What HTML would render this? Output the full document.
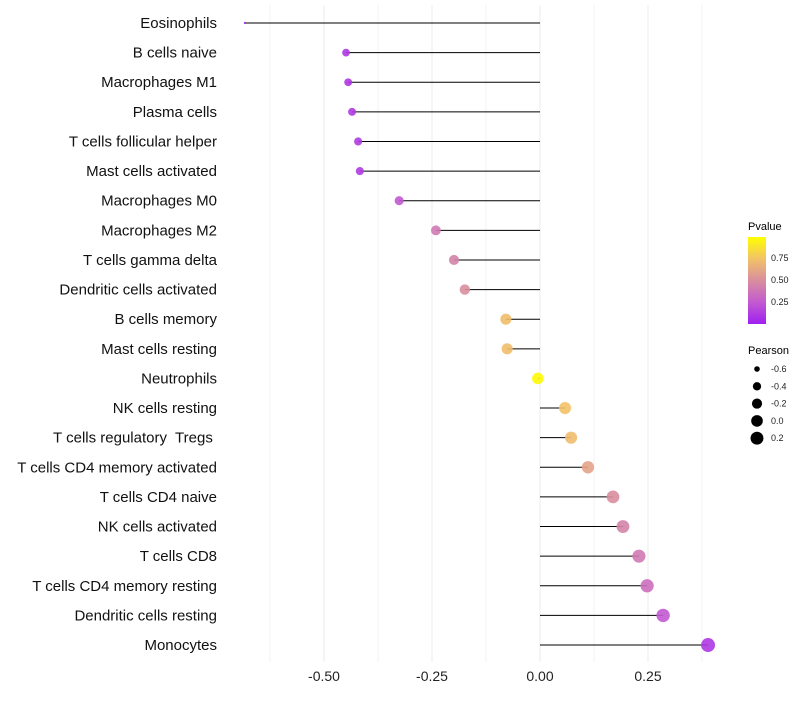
<!DOCTYPE html>
<html><head><meta charset="utf-8"><style>
body{margin:0;background:#fff;font-family:"Liberation Sans",sans-serif}
</style></head><body>
<svg id="chart" width="800" height="700" xmlns="http://www.w3.org/2000/svg">
<defs><linearGradient id="pg" x1="0" y1="1" x2="0" y2="0">
<stop offset="0" stop-color="#A020F0"/><stop offset="0.25" stop-color="#C25AD0"/><stop offset="0.5" stop-color="#D98E9E"/><stop offset="0.75" stop-color="#F2C267"/><stop offset="1" stop-color="#FFFF00"/></linearGradient></defs>
<g id="grid"></g><g id="marks"></g><g id="labels"></g><g id="legend"></g>
</svg>
<script>
const categories=["Eosinophils","B cells naive","Macrophages M1","Plasma cells","T cells follicular helper","Mast cells activated","Macrophages M0","Macrophages M2","T cells gamma delta","Dendritic cells activated","B cells memory","Mast cells resting","Neutrophils","NK cells resting","T cells regulatory\u00a0 Tregs\u00a0","T cells CD4 memory activated","T cells CD4 naive","NK cells activated","T cells CD8","T cells CD4 memory resting","Dendritic cells resting","Monocytes"];
const pearson=[-0.683,-0.449,-0.444,-0.435,-0.421,-0.417,-0.326,-0.241,-0.199,-0.174,-0.079,-0.076,-0.005,0.058,0.072,0.111,0.169,0.192,0.229,0.248,0.285,0.389];
const pvalue=[0.001,0.1,0.1,0.11,0.12,0.12,0.25,0.4,0.45,0.5,0.73,0.73,0.98,0.75,0.72,0.6,0.5,0.45,0.4,0.35,0.25,0.1];
const xTicks=[-0.5,-0.25,0,0.25];
const xTickLabels=["-0.50","-0.25","0.00","0.25"];
const pTicks=[0.25,0.5,0.75];
const sizeLegend=[-0.6,-0.4,-0.2,0.0,0.2];
const NS="http://www.w3.org/2000/svg";
const x=v=>540+v*432;
const y=i=>23+i*29.62;
const pmin=-0.683,pmax=0.389;
const r=v=>(1+5*Math.sqrt(Math.max(0,(v-pmin)/(pmax-pmin))))*7/6;
const stops=[[0,[160,32,240]],[0.25,[194,90,208]],[0.5,[217,142,158]],[0.75,[242,194,103]],[1,[255,255,0]]];
function col(p){for(let k=1;k<stops.length;k++){if(p<=stops[k][0]){const a=stops[k-1],b=stops[k],t=(p-a[0])/(b[0]-a[0]);return "rgb("+a[1].map((c,j)=>Math.round(c+(b[1][j]-c)*t)).join(",")+")";}}return "rgb(255,255,0)";}
function mk(tag,attrs,parent,text){const e=document.createElementNS(NS,tag);for(const k in attrs)e.setAttribute(k,attrs[k]);if(text!==undefined)e.textContent=text;document.getElementById(parent).appendChild(e);return e;}
for(let g=-0.625;g<=0.376;g+=0.125){const e=mk("line",{x1:x(g),x2:x(g),y1:5,y2:662,stroke:"#ebebeb","stroke-width":Math.abs(g*4-Math.round(g*4))<1e-6?1:0.6},"grid");

}
xTicks.forEach((t,i)=>{const e=mk("text",{x:x(t),y:681,"text-anchor":"middle","font-size":14,fill:"#222"},"labels",xTickLabels[i]);

});
categories.forEach((c,i)=>{
const t=mk("text",{x:217,y:y(i)+5,"text-anchor":"end","font-size":15,fill:"#111"},"labels",c);


const l=mk("line",{x1:x(0),x2:x(pearson[i]),y1:y(i),y2:y(i),stroke:"#000","stroke-width":1},"marks");


const d=mk("circle",{cx:x(pearson[i]),cy:y(i),r:r(pearson[i]),fill:col(pvalue[i]),"fill-opacity":0.9},"marks");


});
const lt=mk("text",{x:748,y:230,"font-size":11},"legend","Pvalue");


const bar=mk("rect",{x:748,y:237,width:18,height:87,fill:"url(#pg)"},"legend");


pTicks.forEach(p=>{const yy=324-p*88;
const tl=mk("text",{x:771,y:yy+3,"font-size":9,fill:"#222"},"legend",p.toFixed(2));

});
const st=mk("text",{x:748,y:354,"font-size":11},"legend","Pearson");


sizeLegend.forEach((v,i)=>{const yy=369+i*17.3;
const c=mk("circle",{cx:757,cy:yy,r:r(v),fill:"#000"},"legend");


const tl=mk("text",{x:771,y:yy+3,"font-size":9,fill:"#222"},"legend",v.toFixed(1));

});
</script>
</body></html>
